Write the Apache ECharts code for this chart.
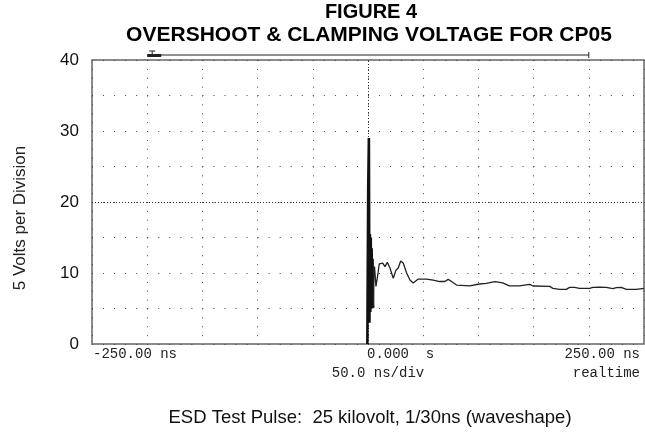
<!DOCTYPE html>
<html><head><meta charset="utf-8">
<script src="https://cdn.jsdelivr.net/npm/echarts@6/dist/echarts.min.js"></script>
<style>html,body{margin:0;padding:0;background:#fff}#c{width:645px;height:433px}</style>
</head><body><div id="c"></div>
<script>
// ---- data ----
const titleLines = ['FIGURE 4', 'OVERSHOOT & CLAMPING VOLTAGE FOR CP05'];
const yAxisName = '5 Volts per Division';
const caption = 'ESD Test Pulse:  25 kilovolt, 1/30ns (waveshape)';
const yTickLabels = [0, 10, 20, 30, 40];
const xTickValues = [-250, 0, 250];
const xTickLabels = ['-250.00 ns', '0.000  s', '250.00 ns'];
const scaleLabels = ['50.0 ns/div', 'realtime'];
const memoryBar = [-200, 200];

// ESD burst (ns, volts)
const burstTime  = [-0.6, 0.2, 0.8, 1.3, 1.7, 2.1, 2.5, 2.9, 3.3, 3.7, 4.1, 4.5, 4.9];
const burstVolts = [0, 22, 29, 3, 15.5, 4.5, 15, 5, 13.5, 5, 12, 5.5, 5.1];
// clamped trace after the burst (ns, volts)
const traceTime  = [4.9, 5.4, 5.9, 7.2, 8.8, 10.2, 13.3, 15.4, 17.5, 19.9, 22.9, 25.3, 27.4, 29.6, 31.9, 35, 38, 41, 45.5, 53, 59, 65, 69.6, 72.6, 75.7, 80.2, 92, 101, 107, 115, 122, 128, 137, 146.5, 149.5, 164.6, 167.5, 173.6, 179.7, 182.6, 187, 191.7, 200.7, 203.7, 209.8, 215.8, 221.8, 224.9, 229.4, 234, 243, 250];
const traceVolts = [5.1, 10.4, 10.9, 8.1, 9.7, 11.3, 11.4, 10.9, 11.5, 10.7, 9.25, 10.4, 10.7, 11.7, 11.4, 10.0, 9.0, 8.6, 9.15, 9.15, 9.0, 8.8, 8.8, 9.1, 8.8, 8.3, 8.2, 8.45, 8.55, 8.8, 8.6, 8.2, 8.2, 8.4, 8.17, 8.12, 7.84, 7.7, 7.7, 7.98, 7.98, 7.84, 7.84, 7.98, 8.0, 7.98, 7.8, 7.94, 7.98, 7.7, 7.7, 7.84];

const chart = echarts.init(document.getElementById('c'), null, {renderer: 'canvas'});
const G = {left: 92, top: 60, right: 1, bottom: 89};
const plotW = 645 - G.left - G.right, plotH = 433 - G.top - G.bottom;

chart.setOption({
  animation: false,
  backgroundColor: '#fff',
  grid: {left: G.left, top: G.top, right: G.right, bottom: G.bottom, show: true, borderColor: '#666', borderWidth: 1.5, backgroundColor: 'transparent'},
  xAxis: {
    type: 'value', min: -250, max: 250, interval: 50,
    axisLine: {show: false}, axisTick: {show: false}, axisLabel: {show: false},
    splitLine: {show: true, lineStyle: {color: '#444', width: 1, type: [1, plotH / 32 - 1]}}
  },
  yAxis: {
    type: 'value', min: 0, max: 40, interval: 5,
    axisLine: {show: false}, axisTick: {show: false},
    axisLabel: {
      margin: 13, fontFamily: 'Liberation Sans', fontSize: 17, color: '#111',
      formatter: v => yTickLabels.indexOf(v) >= 0 ? String(v) : ''
    },
    splitLine: {show: true, lineStyle: {color: '#444', width: 1, type: [1, plotW / 50 - 1]}}
  },
  series: [
    {
      type: 'line', showSymbol: false, silent: true,
      data: burstTime.map((t, i) => [t, burstVolts[i]]),
      lineStyle: {color: '#111', width: 2.6}, z: 5,
      markLine: {
        silent: true, symbol: 'none', label: {show: false},
        lineStyle: {color: '#333', width: 1, type: [1, 2]},
        data: [{yAxis: 20}, {xAxis: 0}]
      }
    },
    {
      type: 'line', showSymbol: false, silent: true,
      data: traceTime.map((t, i) => [t, traceVolts[i]]),
      lineStyle: {color: '#222', width: 1.3}, z: 5
    }
  ]
});

const px = v => chart.convertToPixel({xAxisIndex: 0}, v);
const b0 = px(memoryBar[0]), b1 = px(memoryBar[1]);
const barY = G.top - 5;
const mono = '14px "Liberation Mono"';
const row1 = G.top + plotH + 10, row2 = row1 + 19;
const rightEdge = px(xTickValues[2]) - 4;

chart.setOption({
  graphic: [
    {type: 'text', style: {text: titleLines[0], font: 'bold 20px "Liberation Sans"', fill: '#000', align: 'center', verticalAlign: 'top'}, position: [371, 2]},
    {type: 'text', style: {text: titleLines[1], font: 'bold 21px "Liberation Sans"', fill: '#000', align: 'center', verticalAlign: 'top'}, position: [369, 25]},
    {type: 'text', rotation: Math.PI / 2, position: [20, 218], style: {text: yAxisName, font: '17px "Liberation Sans"', fill: '#222', align: 'center', verticalAlign: 'middle'}},
    {type: 'text', position: [370, 418], style: {text: caption, font: '18.5px "Liberation Sans"', fill: '#111', align: 'center', verticalAlign: 'middle'}},
    {type: 'text', position: [px(xTickValues[0]) + 1, row1], style: {text: xTickLabels[0], font: mono, fill: '#222', align: 'left', verticalAlign: 'middle'}},
    {type: 'text', position: [px(xTickValues[1]) - 1, row1], style: {text: xTickLabels[1], font: mono, fill: '#222', align: 'left', verticalAlign: 'middle'}},
    {type: 'text', position: [rightEdge, row1], style: {text: xTickLabels[2], font: mono, fill: '#222', align: 'right', verticalAlign: 'middle'}},
    {type: 'text', position: [px(xTickValues[1]) + 10, row2], style: {text: scaleLabels[0], font: mono, fill: '#222', align: 'center', verticalAlign: 'middle'}},
    {type: 'text', position: [rightEdge, row2], style: {text: scaleLabels[1], font: mono, fill: '#222', align: 'right', verticalAlign: 'middle'}},
    {type: 'line', shape: {x1: b0, y1: barY, x2: b1, y2: barY}, style: {stroke: '#222', lineWidth: 1}},
    {type: 'line', shape: {x1: b1, y1: barY - 3, x2: b1, y2: barY + 3}, style: {stroke: '#222', lineWidth: 1}},
    {type: 'rect', shape: {x: b0, y: barY - 1, width: 14, height: 3}, style: {fill: '#222'}},
    {type: 'line', shape: {x1: b0 + 2, y1: barY - 4, x2: b0 + 8, y2: barY - 4}, style: {stroke: '#222', lineWidth: 1}},
    {type: 'line', shape: {x1: b0 + 5, y1: barY - 4, x2: b0 + 5, y2: barY}, style: {stroke: '#222', lineWidth: 1}}
  ]
});
</script></body></html>
